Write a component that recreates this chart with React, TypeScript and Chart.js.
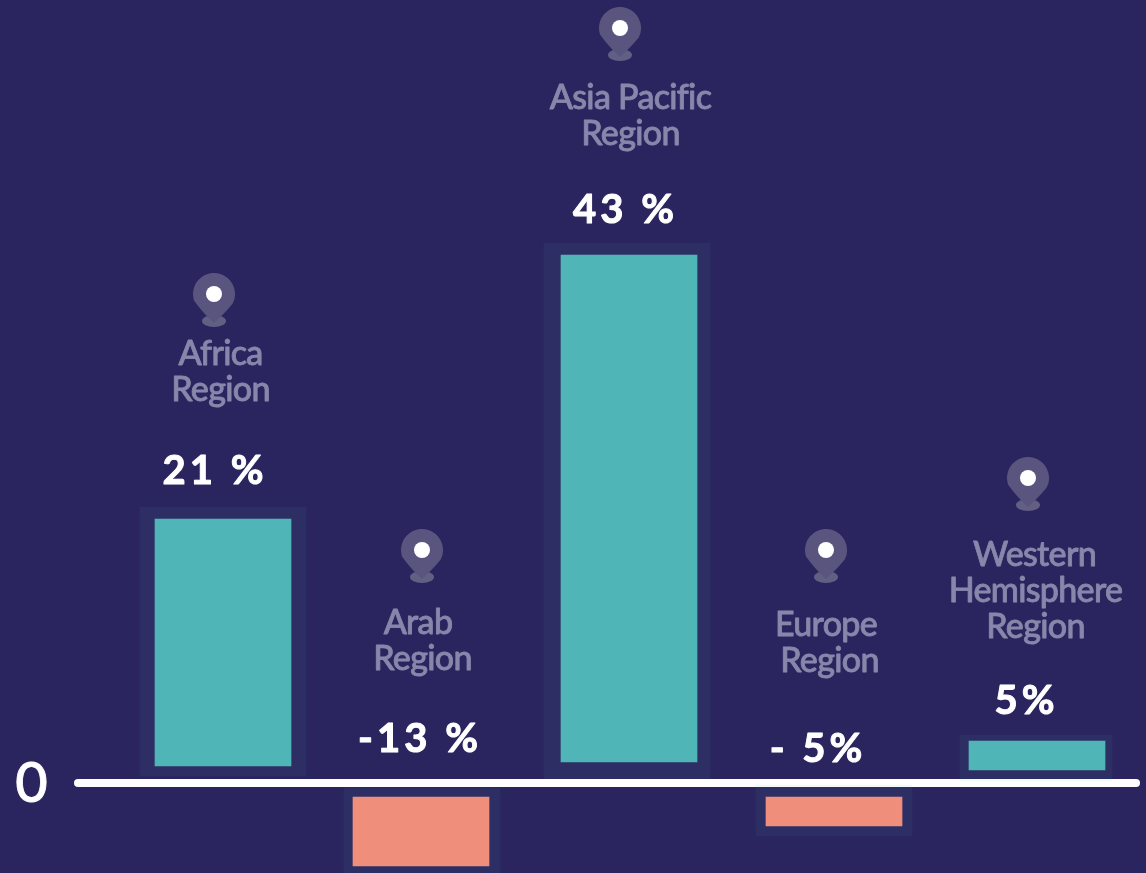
import React, { useEffect, useRef } from "react";
import { Chart, registerables } from "chart.js";

Chart.register(...registerables);

// Region data
const categories = ["Africa", "Arab", "Asia Pacific", "Europe", "Western Hemisphere"];
const valueLabels = ["21 %", "-13 %", "43 %", "- 5%", "5%"];
const labelLines = [
  ["Africa", "Region"],
  ["Arab", "Region"],
  ["Asia Pacific", "Region"],
  ["Europe", "Region"],
  ["Western", "Hemisphere", "Region"],
];

// Position of each column along the baseline axis (the spacing is not even)
const columnX = [223, 421, 629, 834, 1037];
// Extents, in axis units
const barExtents: [number, number][] = [
  [1.42, 22],
  [-1.17, -6.92],
  [1.75, 44],
  [-1.17, -3.58],
  [1.08, 3.5],
];
const panelX = [223, 422, 627, 834, 1036];
const panelExtents: [number, number][] = [
  [0.58, 23],
  [-0.42, -7.5],
  [0.33, 45],
  [-0.17, -4.42],
  [0.17, 4],
];
const panelWidths = [166, 156, 166, 156, 152];
const zeroLine = [78, 1136];

const BG = "#2a255e";
const TEAL = "#50b5b7";
const SALMON = "#ef8e7b";
const PANEL = "rgba(90,190,190,0.07)";
const LABEL = "#8986ab";

const labelAnnotations = [
  { x: [220.5, 220.5], y: [365, 401] },
  { x: [418, 422.5], y: [634, 670] },
  { x: [630.5, 630.5], y: [109, 145] },
  { x: [826, 829.5], y: [636, 672] },
  { x: [1034.5, 1035.5, 1035.5], y: [566, 602, 638] },
];
const valueAnn = [
  { x: 215, y: 484 },
  { x: 420, y: 752 },
  { x: 625.5, y: 223 },
  { x: 818, y: 762 },
  { x: 1026.5, y: 714 },
];
const pins = [
  { x: 214, y: 294 },
  { x: 422, y: 550 },
  { x: 620, y: 28 },
  { x: 826, y: 550 },
  { x: 1028, y: 478 },
];

const overlay = {
  id: "overlay",
  afterDatasetsDraw(chart: any) {
    const c: CanvasRenderingContext2D = chart.ctx;
    c.save();
    c.lineJoin = "round";
    // zero label
    c.fillStyle = "#fff";
    c.strokeStyle = "#fff";
    c.font = '500 56px "Lato"';
    c.textAlign = "center";
    c.textBaseline = "alphabetic";
    c.lineWidth = 0.8;
    c.fillText("0", 31.5, 802);
    c.strokeText("0", 31.5, 802);

    // pins
    for (const p of pins) {
      c.fillStyle = "#625f84";
      c.beginPath();
      c.ellipse(p.x, p.y + 27, 12, 6, 0, 0, Math.PI * 2);
      c.fill();
      c.fillStyle = "#59557f";
      c.beginPath();
      c.arc(p.x, p.y, 21, Math.PI * 0.85, Math.PI * 0.15);
      c.quadraticCurveTo(p.x + 12, p.y + 18, p.x, p.y + 29);
      c.quadraticCurveTo(p.x - 12, p.y + 18, p.x - 20, p.y + 6.5);
      c.closePath();
      c.fill();
      c.fillStyle = "#fff";
      c.beginPath();
      c.arc(p.x, p.y, 8, 0, Math.PI * 2);
      c.fill();
    }

    // region labels
    c.fillStyle = LABEL;
    c.strokeStyle = LABEL;
    c.lineWidth = 0.8;
    c.font = '500 34px "Lato"';
    (c as any).letterSpacing = "-0.7px";
    labelLines.forEach((lines, i) => {
      lines.forEach((t, j) => {
        c.fillText(t, labelAnnotations[i].x[j], labelAnnotations[i].y[j]);
        c.strokeText(t, labelAnnotations[i].x[j], labelAnnotations[i].y[j]);
      });
    });

    // value labels
    c.fillStyle = "#fff";
    c.strokeStyle = "#fff";
    c.lineWidth = 1;
    c.font = 'bold 40px "Lato"';
    (c as any).letterSpacing = "4px";
    valueLabels.forEach((t, i) => {
      c.fillText(t, valueAnn[i].x, valueAnn[i].y);
      c.strokeText(t, valueAnn[i].x, valueAnn[i].y);
    });
    c.restore();
  },
};

function panelData(width: number) {
  return columnX.map((_, i) =>
    panelWidths[i] === width ? { x: panelX[i], y: panelExtents[i] } : null
  ).filter(Boolean);
}

export default function App() {
  const ref = useRef<HTMLCanvasElement>(null);
  useEffect(() => {
    document.body.style.margin = "0";
    document.body.style.background = BG;
    const chart = new Chart(ref.current!, {
      type: "bar",
      data: {
        datasets: [
          {
            label: "Regions",
            data: columnX.map((x, i) => ({ x, y: barExtents[i] })),
            backgroundColor: barExtents.map((e) => (e[0] + e[1] >= 0 ? TEAL : SALMON)),
            barThickness: 136,
            grouped: false,
            order: 0,
          } as any,
          ...[166, 156, 152].map((w) => ({
            label: "Panel " + w,
            data: panelData(w),
            backgroundColor: PANEL,
            barThickness: w,
            grouped: false,
            order: 1,
          })) as any,
          {
            type: "line",
            label: "Zero",
            data: zeroLine.map((x) => ({ x, y: 0 })),
            borderColor: "#ffffff",
            borderWidth: 8,
            borderCapStyle: "round",
            pointRadius: 0,
            order: 2,
          } as any,
        ],
      },
      options: {
        animation: false,
        responsive: false,
        maintainAspectRatio: false,
        layout: { padding: 0 },
        plugins: { legend: { display: false }, tooltip: { enabled: false } },
        scales: {
          x: { type: "linear", display: false, min: 0, max: 1146, offset: false },
          y: { type: "linear", display: false, min: -7.5, max: 65.25 },
        },
      },
      plugins: [overlay],
    });
    return () => chart.destroy();
  }, []);
  return (
    <canvas
      ref={ref}
      width={1146}
      height={873}
      style={{ display: "block", width: 1146, height: 873, background: BG }}
      aria-label={categories.join(", ")}
    />
  );
}
